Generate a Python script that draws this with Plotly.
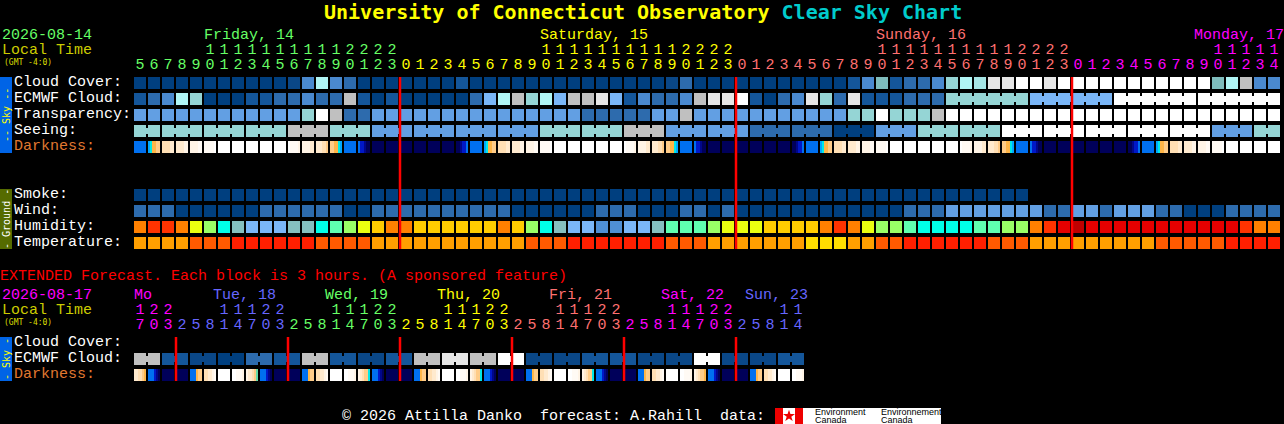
import plotly.graph_objects as go

# Block colours, one code per hour block
SKY_COLORS = {'A': '#003f7f', 'a': '#0a4787', 'B': '#14569a', 'C': '#2d6bad', 'D': '#4a89cf',
              'E': '#629fe3', 'F': '#7ab6f7', 'G': '#95d5d5', 'H': '#7fbdbd', 'I': '#b0f5f5',
              'J': '#a5e5e5', 'K': '#c0c0c0', 'L': '#e6e6e6', 'W': '#ffffff'}
HUMIDITY_COLORS = {'o': '#ff8000', 'r': '#ff3300', 'y': '#ffcc00', 'Y': '#eaff10', 'l': '#99ff66',
                   'g': '#5fffb0', 'c': '#00ffe8', 'H': '#85bfbf', 'F': '#7ab6f7', 'D': '#4f8fd4',
                   'R': '#e60000', 'd': '#bf0000'}
TEMP_COLORS = {'a': '#ff9f00', 'b': '#ff5a00', 'e': '#ff1f00', 'f': '#ffdd00'}
DARK_COLORS = {'n': '#00005a', 't': '#00068a', 'u': '#0018c8', 'b': '#0070f0', 's': '#00a8ff',
               'c': '#00e8e8', 'g': '#66ddaa', 'o': '#ffb648', 'p': '#ffcc88', 'q': '#ffdfb4',
               'r': '#ffeace', 'v': '#fff4e6', 'x': '#fffaf4', 'w': '#ffffff'}

# Hourly forecast, Friday 05h to Monday 14h
hours = [5, 6, 7, 8, 9, 10, 11, 12, 13, 14, 15, 16, 17, 18, 19, 20, 21, 22, 23,
         0, 1, 2, 3, 4, 5, 6, 7, 8, 9, 10, 11, 12, 13, 14, 15, 16, 17, 18, 19, 20, 21, 22, 23,
         0, 1, 2, 3, 4, 5, 6, 7, 8, 9, 10, 11, 12, 13, 14, 15, 16, 17, 18, 19, 20, 21, 22, 23,
         0, 1, 2, 3, 4, 5, 6, 7, 8, 9, 10, 11, 12, 13, 14]
day_starts = [0, 19, 43, 67]
day_colors = ['#66ff66', '#ffff00', '#ff7070', '#ff00ff']

cloud_cover = ('AAAAAAAAAA' 'AaDIDCAAAA' 'AAABAAAAAA' 'AAAAAAAAaC' 'AAAAAAAAAA'
               'ABDHBCCDGI' 'JLLWWLWWWW' 'WWWWWWWHIK' 'DD')
ecmwf_cloud = ('BCDIGAAABB' 'CCDCCKBABA' 'AAAACFIKGI' 'FKKLFBDCCD' 'KLLWBACDLG'
               'CLBBBCCCGG' 'GGGGFFFFFF' 'WWWWWWWWWW' 'WW')
transparency = ('EEEEEEEEEE' 'EEGWKCCEEE' 'EEEEEEEEEE' 'EECCCCCEEK' 'EEEEEEEEEE'
                'EGGWGGGKWW' 'WWWWWWWWWW' 'WWWWWWWWWW' 'WW')
seeing = ('GGGGGGGGGG' 'GKKKGGGEEE' 'EEEEEEEEEG' 'GGGGGKKKEE' 'EEEECCCCCC'
          'AAAEEEGGGG' 'GGWWWWWWWW' 'WWWWWWWEEE' 'GG')
darkness = ('b scoopp qqqqrr rrrrvv vvvvxx xxxxxw w w w w w wxxxxv vvvvrr rrrqqp ppoocs b buutnn '
            'n n n n n n nntuub b scoopp qqqqrr rrrrvv vvvvxx xxxxxw w w w w w wxxxxv vvvvrr rrrqqp '
            'ppoocs b buutnn n n n n n n nntuub b scoopp qqqqrr rrrrvv vvvvxx xxxxxw w w w w w '
            'wxxxxv vvvvrr rrrqqp ppoocs b buutnn n n n n n n nntuub b scoopp qqqqrr rrrrvv '
            'vvvvxx xxxxxw w w w w').split()
smoke = ('AAAAAAAAAA' 'AAAAAAAAAA' 'AAAAAAAAAA' 'AAAAAAAAAA' 'AAAAAAAAAA' 'AAAAAAAAAA' 'AAAA')
wind = ('CCCAAAAAAC' 'CCCCCAACCC' 'CCCCCCCAAA' 'AAACCCAAAC' 'CACAAAAAAA'
        'AAAAACCCEE' 'EEEEECCEEC' 'EEECCAAACC' 'CC')
humidity = ('orroYlcHFF' 'FHHcglYyoo' 'yyyyyyoylc' 'HFFDDFFHgg' 'glYYYyyyyo'
            'roYllgcccc' 'ggllorRdRR' 'RRRRRRRRRr' 'oo')
temperature = ('aaaabbbeee' 'eeebbbbaaa' 'aaaaaaaabb' 'beeeeeeebb' 'baaaaaaaff'
               'faabbeeeee' 'ebbbaaaaaa' 'aaabbbbbee' 'ee')

# Blocks joined together (3 hour model steps)
seeing_runs = [2] + [3] * 26 + [2]
ecmwf_runs = [1] * 58 + [6, 6, 6, 6]
midnight_cols = [19, 43, 67]

# Extended forecast, one block per 3 hours
ext_hours = [17, 20, 23, 2, 5, 8, 11, 14, 17, 20, 23, 2, 5, 8, 11, 14, 17, 20, 23, 2, 5, 8, 11, 14,
             17, 20, 23, 2, 5, 8, 11, 14, 17, 20, 23, 2, 5, 8, 11, 14, 17, 20, 23, 2, 5, 8, 11, 14]
ext_day_starts = [0, 3, 11, 19, 27, 35, 43]
ext_day_colors = ['#ff00ff', '#6666ff', '#66ff66', '#ffff00', '#ff7070', '#ff00ff', '#6666ff']
ext_ecmwf = ('KKBBaaAACCBBKKBBaaBBKKLLKKWW' 'aaaaBBBBaaaaWWaaaaBB')
ext_runs = [2] * 24
ext_darkness = ('rrqqpo bbbutn n n bbbopp qqrrvx w wwxxxv vrrqpg bbbutn n n bbbopp qqrrvx w wwxxxv '
                'vrqppc bbbutn n n bbbopp qqrrvx w wwxxxv vrqppc bbbutn n n bbbopp qqrrvx w wwxxxv '
                'vrqppc bbbutn n n bbbopp qqrrvx w wwxxxv vrqppo bbbutn n n bbbopp qqrrvx w wwxxxv').split()
ext_midnight_cols = [3, 11, 19, 27, 35, 43]

MONO = 'Liberation Mono'


# Axis units are blocks and rows, these turn page pixels into them
def col_at(px):
    return (px - 140) / 14


def row_at(py):
    return (py - 83) / 16


fig = go.Figure()


def palette_scale(palette):
    n = len(palette)
    scale = []
    for i, color in enumerate(palette.values()):
        scale += [[i / n, color], [(i + 1) / n, color]]
    return scale


def add_strip(row, samples, palette, height):
    # each block is 6 samples wide plus 1 empty sample as the gap
    index = {code: i + 0.5 for i, code in enumerate(palette)}
    z = [index[s] if s else None for s in samples]
    fig.add_trace(go.Heatmap(
        z=[z], x0=-6 / 14 + 1 / 14, dx=2 / 14, y0=row, dy=height / 16,
        zmin=0, zmax=len(palette), colorscale=palette_scale(palette),
        showscale=False, hoverinfo='skip'
    ))


def add_row(row, blocks, palette, runs=None):
    samples = []
    links = []
    joined = set()
    if runs:
        start = 0
        for run in runs:
            joined.update(range(start, start + run - 1))
            start += run
    for i, block in enumerate(blocks):
        cells = list(block) if len(block) == 6 else [block] * 6
        samples += cells + [None]
        links += [None] * 6 + [block[-1] if i in joined else None]
    add_strip(row, samples, palette, 12)
    if joined:
        add_strip(row, links, palette, 6)


def add_hour_labels(row_tens, row_ones, values, starts, colors):
    shade = []
    for i in range(len(values)):
        shade.append([c for s, c in zip(starts, colors) if s <= i][-1])
    cols = list(range(len(values)))
    fig.add_trace(go.Scatter(
        x=cols, y=[row_ones] * len(cols), mode='text', text=[str(h % 10) for h in values],
        textfont=dict(family=MONO, size=15, color=shade), hoverinfo='skip', cliponaxis=False
    ))
    fig.add_trace(go.Scatter(
        x=cols, y=[row_tens] * len(cols), mode='text',
        text=[str(h // 10) if h >= 10 else '' for h in values],
        textfont=dict(family=MONO, size=15, color=shade), hoverinfo='skip', cliponaxis=False
    ))


def add_red_lines(cols, top, bottom):
    xs = []
    ys = []
    for c in cols:
        xs += [c - 6 / 14, c - 6 / 14, None]
        ys += [row_at(top), row_at(bottom), None]
    fig.add_trace(go.Scatter(x=xs, y=ys, mode='lines', line=dict(color='#ff0000', width=2.5),
                             hoverinfo='skip'))


def label(px, py, text, color='#ffffff', size=15, font=MONO, weight='normal', angle=0, anchor='left'):
    # annotations sit 1px in from their anchor
    fig.add_annotation(x=col_at(px), y=row_at(py), text=text, showarrow=False, xanchor=anchor,
                       xshift=-1 if anchor == 'left' else 0,
                       yanchor='middle', textangle=angle, borderpad=0,
                       font=dict(family=font, size=size, color=color, weight=weight))


def box(x0, y0, x1, y1, color):
    fig.add_shape(type='rect', x0=col_at(x0), x1=col_at(x1), y0=row_at(y0), y1=row_at(y1),
                  fillcolor=color, line_width=0, layer='below')


# Main grid
add_row(0, cloud_cover, SKY_COLORS)
add_row(1, ecmwf_cloud, SKY_COLORS, ecmwf_runs)
add_row(2, transparency, SKY_COLORS)
add_row(3, seeing, SKY_COLORS, seeing_runs)
add_row(4, darkness, DARK_COLORS)
add_row(7, smoke, SKY_COLORS)
add_row(8, wind, SKY_COLORS)
add_row(9, humidity, HUMIDITY_COLORS)
add_row(10, temperature, TEMP_COLORS)
add_red_lines(midnight_cols, 77, 249)

# Extended grid
add_row(row_at(359), ext_ecmwf, SKY_COLORS, ext_runs)
add_row(row_at(375), ext_darkness, DARK_COLORS)
add_red_lines(ext_midnight_cols, 337, 381)

add_hour_labels(row_at(50), row_at(65), hours, day_starts, day_colors)
add_hour_labels(row_at(310), row_at(325), ext_hours, ext_day_starts, ext_day_colors)

# Title
fig.add_annotation(x=col_at(323), y=row_at(12), xanchor='left', yanchor='middle', showarrow=False,
                   borderpad=0, font=dict(family='DejaVu Sans Mono', size=20, weight='bold'),
                   text='<span style="color:#ffff00">University of Connecticut Observatory</span> '
                        '<span style="color:#00cccc">Clear Sky Chart</span>')

# Header text
label(2, 35, '2026-08-14', '#66ff66')
label(2, 50, 'Local Time', '#cccc00')
label(4, 62, '(GMT -4:0)', '#dddd00', size=8, font='DejaVu Sans Mono')
label(204, 35, 'Friday, 14', '#66ff66')
label(540, 35, 'Saturday, 15', '#ffff00')
label(876, 35, 'Sunday, 16', '#ff7070')
label(1194, 35, 'Monday, 17', '#ff00ff')

# Row names
for py, name, color in [(82, 'Cloud Cover:', '#ffffff'), (98, 'ECMWF Cloud:', '#ffffff'),
                        (114, 'Transparency:', '#ffffff'), (130, 'Seeing:', '#ffffff'),
                        (146, 'Darkness:', '#e07830'), (194, 'Smoke:', '#ffffff'),
                        (210, 'Wind:', '#ffffff'), (226, 'Humidity:', '#ffffff'),
                        (242, 'Temperature:', '#ffffff'), (342, 'Cloud Cover:', '#ffffff'),
                        (358, 'ECMWF Cloud:', '#ffffff'), (374, 'Darkness:', '#e07830')]:
    label(14, py, name, color)

# Side bars
box(0, 77, 12, 153, '#0064e6')
box(0, 189, 12, 249, '#556b00')
box(0, 337, 12, 381, '#0064e6')
label(6, 115, '-- Sky --', '#ffff00', size=10, font='DejaVu Sans Mono', angle=-90, anchor='center')
label(6, 219, '- Ground -', '#ffffff', size=10, font='DejaVu Sans Mono', angle=-90, anchor='center')
label(6, 359, '- Sky -', '#ffff00', size=10, font='DejaVu Sans Mono', angle=-90, anchor='center')

# Extended header
label(0, 276, 'EXTENDED Forecast. Each block is 3 hours. (A sponsored feature)', '#ff0000')
label(2, 295, '2026-08-17', '#ff00ff')
label(2, 310, 'Local Time', '#cccc00')
label(4, 322, '(GMT -4:0)', '#dddd00', size=8, font='DejaVu Sans Mono')
for px, text, color in [(134, 'Mo', '#ff00ff'), (213, 'Tue, 18', '#6666ff'), (325, 'Wed, 19', '#66ff66'),
                        (437, 'Thu, 20', '#ffff00'), (549, 'Fri, 21', '#ff7070'),
                        (661, 'Sat, 22', '#ff00ff'), (745, 'Sun, 23', '#6666ff')]:
    label(px, 295, text, color)

# Footer with the data source logos
label(342, 416, '\u00a9 2026 Attilla Danko  forecast: A.Rahill  data:')
box(775, 408, 941, 424, '#ffffff')
box(775, 408, 783, 424, '#ee0000')
box(795, 408, 803, 424, '#ee0000')
fig.add_trace(go.Scatter(x=[col_at(789)], y=[row_at(416)], mode='markers', hoverinfo='skip',
                         marker=dict(symbol='star', size=9, color='#ee0000')))
label(815, 412, 'Environment', '#000000', size=9, font='Liberation Sans')
label(815, 420, 'Canada', '#000000', size=9, font='Liberation Sans')
label(881, 412, 'Environnement', '#000000', size=9, font='Liberation Sans')
label(881, 420, 'Canada', '#000000', size=9, font='Liberation Sans')

fig.update_layout(
    width=1284, height=424,
    margin=dict(l=0, r=0, t=0, b=0),
    paper_bgcolor='#000000', plot_bgcolor='#000000',
    showlegend=False,
    xaxis=dict(range=[col_at(0), col_at(1284)], visible=False, fixedrange=True),
    yaxis=dict(range=[row_at(424), row_at(0)], visible=False, fixedrange=True),
)

fig.write_html("out.html", config={'displayModeBar': False},
               post_script="document.body.style.margin='0';document.documentElement.style.overflow='hidden';")
